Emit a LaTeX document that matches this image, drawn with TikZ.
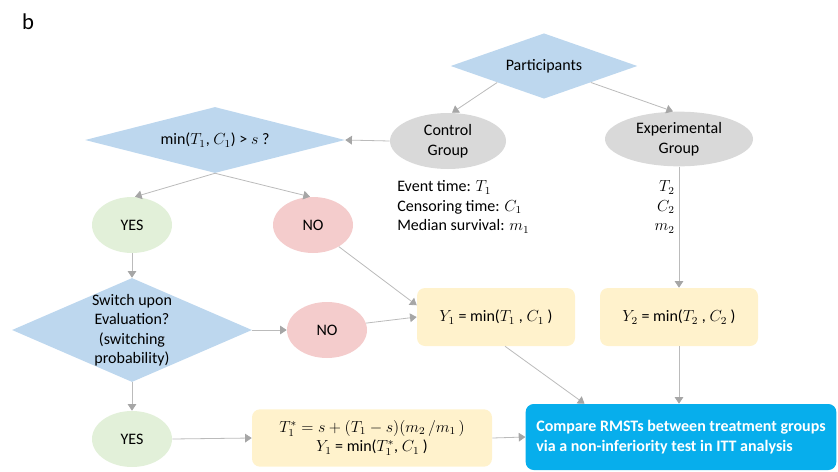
\documentclass[tikz,border=0pt]{standalone}
\usepackage{fontspec}
\setmainfont{Carlito}
\usetikzlibrary{shapes.geometric,arrows.meta,calc}

\definecolor{diablue}{HTML}{BDD7EE}
\definecolor{grpgray}{HTML}{D9D9D9}
\definecolor{yesgreen}{HTML}{E2F0D9}
\definecolor{nored}{HTML}{F4CCCC}
\definecolor{outyellow}{HTML}{FFF2CC}
\definecolor{cmpblue}{HTML}{07AEEC}
\definecolor{linegray}{HTML}{BBBBBB}
\definecolor{tipgray}{HTML}{A6A6A6}

\tikzset{
	decision/.style={diamond, fill=diablue, inner sep=0pt, align=center},
	group/.style={ellipse, fill=grpgray, inner sep=0pt, align=center},
	yesbub/.style={ellipse, fill=yesgreen, inner sep=0pt, minimum width=60pt, minimum height=42pt},
	nobub/.style={ellipse, fill=nored, inner sep=0pt, minimum width=60pt, minimum height=42pt},
	outbox/.style={rectangle, rounded corners=6pt, fill=outyellow, inner sep=0pt, align=center},
	flow/.style={draw=linegray, line width=0.6pt, -{Triangle[length=5pt,width=6.5pt,color=tipgray]}}
}

\begin{document}
\begin{tikzpicture}[x=0.75pt, y=-0.75pt, font=\fontsize{12}{14.6}\selectfont]
	\useasboundingbox (0,0) rectangle (838,471);
	\node[font=\fontsize{17}{18}\selectfont] (tag) at (28,22) {b};

	\node[decision, aspect=2.86, minimum width=140pt, minimum height=49pt] (part) at (544,66) {Participants};
	\node[group, minimum width=87pt, minimum height=42pt] (ctrl) at (448,141) {Control\\Group};
	\node[group, minimum width=111pt, minimum height=41pt] (exp) at (679,139) {Experimental\\Group};
	\node[anchor=west, align=left, inner sep=0pt] (ctrlinfo) at (397,207) {Event time: $T_1$\\Censoring time: $C_1$\\Median survival: $m_1$};
	\node[anchor=east, align=right, inner sep=0pt] (expinfo) at (675,207) {$T_2$\\$C_2$\\$m_2$};

	\node[decision, aspect=3.94, minimum width=195pt, minimum height=49.5pt] (mindia) at (215,140) {min($T_1$, $C_1$) > $s$ ?};
	\node[yesbub] (yes1) at (132,225) {YES};
	\node[nobub] (no1) at (313,225) {NO};
	\node[decision, aspect=2.3, inner sep=-3pt, minimum width=180pt, minimum height=78pt] (switch) at (132,330) {Switch upon\\Evaluation?\\(switching\\probability)};
	\node[nobub] (no2) at (327,330) {NO};
	\node[yesbub] (yes2) at (132,439) {YES};

	\node[outbox, minimum width=118.5pt, minimum height=43.5pt] (y1) at (496,317) {$Y_1$ = min($T_1$ , $C_1$ )};
	\node[outbox, minimum width=118.5pt, minimum height=43.5pt] (y2) at (679,317) {$Y_2$ = min($T_2$ , $C_2$ )};
	\node[outbox, minimum width=180pt, minimum height=43pt] (t1box) at (372,438) {$T_1^* = s + (T_1 - s)(m_2\,/m_1\,)$\\$Y_1$ = min($T_1^*$, $C_1$ )};
	\node[rectangle, rounded corners=6pt, fill=cmpblue, text=white, font=\fontsize{12}{14.6}\selectfont\bfseries, align=left, minimum width=233pt, minimum height=49.5pt] (cmp) at (681,437) {Compare RMSTs between treatment groups\\via a non-inferiority test in ITT analysis};

	\draw[flow] (part.south west) -- ($(ctrl.north)+(4,0)$);
	\draw[flow] (part.south east) -- ($(exp.north)+(-6,0)$);
	\draw[flow] (ctrl.west) -- (mindia.east);
	\draw[flow] (mindia.south) -- ($(yes1.north)+(3,0)$);
	\draw[flow] (mindia.south) -- ($(no1.north)+(-3,0)$);
	\draw[flow] (yes1.south) -- (switch.north);
	\draw[flow] (switch.east) -- (no2.west);
	\draw[flow] (switch.south) -- (yes2.north);
	\draw[flow] (no1.-40) -- ($(y1.north west)!0.3!(y1.south west)$);
	\draw[flow] (no2.10) -- (y1.west);
	\draw[flow] (yes2.east) -- (t1box.west);
	\draw[flow] (exp.south) -- (y2.north);
	\draw[flow] ($(y1.south)+(9,0)$) -- ($(cmp.north west)!0.19!(cmp.north east)$);
	\draw[flow] (y2.south) -- (y2.south |- cmp.north);
	\draw[flow] (t1box.east) -- (cmp.west);
\end{tikzpicture}
\end{document}
